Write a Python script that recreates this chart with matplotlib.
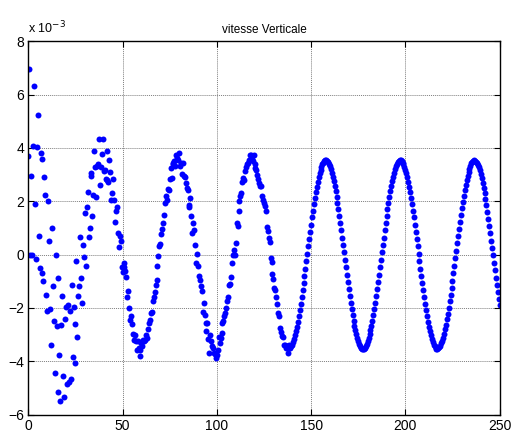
import matplotlib
matplotlib.use('Agg')
import numpy as np
import matplotlib.pyplot as plt

# vertical speed, in units of 1e-3, one sample every 0.5 on the x axis
T_STEP = 0.5

# x = 0 .. 50 : noisy start
vz_start = [
    3.70, 6.96, 0.00, 2.96, 0.00, 4.06, 6.31, 1.90, -0.15, 4.03,
    5.25, 0.70, -0.50, 3.80, 3.60, -0.70, -1.00, 2.90, 2.22, -1.52,
    -2.10, 2.02, 0.50, -2.05, -3.38, 1.00, -1.18, -2.48, -4.42, 0.00,
    -2.68, -5.15, -0.88, -3.78, -5.48, -2.65, -1.55, -4.55, -5.35, -2.40,
    -1.95, -4.85, -1.90, -4.78, -2.10, -4.68, -1.15, -3.85, -1.95, -4.05,
    -2.60, -0.25, -3.10, -1.55, -1.18, 0.65, -0.88, -1.82, 0.38, -0.10,
    1.55, -0.42, 1.80, 2.35, 0.65, 1.00, 3.05, 2.95, 1.45, 2.22,
    3.90, 3.28, 2.15, 3.32, 3.40, 4.35, 2.60, 3.30, 3.78, 4.35,
    3.15, 3.18, 2.85, 3.90, 2.80, 2.72, 3.55, 3.10, 2.05, 2.30,
    2.82, 2.05, 1.22, 1.62, 1.78, 0.80, 0.28, 0.70, 0.50, -0.45,
    -0.65,
]

# x = 50.5 .. 139.5 : oscillation with some scatter
vz_middle = [
    -0.31, -0.45, -0.63, -0.82, -1.58, -1.38, -2.00, -2.44, -2.30, -2.60,
    -2.96, -3.19, -3.00, -3.25, -3.56, -3.25, -3.50, -3.81, -3.56, -3.30,
    -3.44, -3.19, -3.25, -3.19, -3.00, -3.14, -2.80, -2.56, -2.44, -2.19,
    -2.14, -1.73, -1.60, -1.40, -1.13, -0.95, -0.44, -0.06, 0.31, 0.40,
    0.79, 0.96, 1.19, 1.50, 1.94, 2.19, 2.06, 2.48, 2.41, 2.85,
    3.25, 2.88, 3.38, 3.44, 3.50, 3.32, 3.75, 3.63, 3.55, 3.81,
    3.31, 3.44, 3.03, 3.44, 2.94, 2.90, 2.69, 2.50, 2.44, 1.88,
    1.78, 2.13, 1.46, 0.81, 1.19, 0.94, 0.35, -0.31, 0.03, -0.41,
    -0.80, -0.96, -1.19, -1.38, -2.15, -1.81, -2.25, -2.88, -2.55, -2.56,
    -3.15, -3.69, -3.00, -3.25, -3.44, -3.50, -3.69, -3.71, -3.88, -3.78,
    -3.56, -3.10, -3.30, -3.13, -2.94, -2.56, -2.50, -2.31, -2.20, -2.00,
    -1.75, -1.60, -1.15, -1.10, -0.85, -0.32, -0.03, 0.19, 0.00, 0.44,
    1.19, 1.06, 1.63, 2.00, 2.19, 2.31, 2.74, 2.88, 2.81, 3.13,
    3.28, 3.38, 3.44, 3.56, 3.75, 3.75, 3.58, 3.50, 3.75, 3.38,
    3.26, 3.19, 3.00, 2.85, 2.69, 2.57, 2.56, 2.20, 2.06, 1.93,
    1.81, 1.63, 1.03, 0.88, 0.64, 0.48, -0.13, -0.28, -0.71, -0.90,
    -1.25, -1.34, -1.60, -1.85, -2.19, -2.31, -2.75, -2.90, -3.06, -3.10,
    -3.38, -3.39, -3.50, -3.44, -3.69, -3.50, -3.38, -3.50, -3.44,
]

# x = 140 .. 250 : settled oscillation
vz_end = [
    -3.37, -3.27, -3.16, -3.02, -2.87, -2.70, -2.51, -2.30, -2.08, -1.85,
    -1.60, -1.34, -1.08, -0.81, -0.53, -0.25, 0.03, 0.31, 0.59, 0.86,
    1.13, 1.40, 1.65, 1.89, 2.12, 2.34, 2.55, 2.73, 2.90, 3.05,
    3.18, 3.30, 3.39, 3.45, 3.50, 3.53, 3.53, 3.51, 3.47, 3.40,
    3.32, 3.21, 3.08, 2.93, 2.77, 2.58, 2.38, 2.17, 1.94, 1.70,
    1.45, 1.19, 0.92, 0.64, 0.37, 0.09, -0.20, -0.48, -0.75, -1.03,
    -1.29, -1.55, -1.80, -2.03, -2.26, -2.47, -2.66, -2.84, -2.99, -3.13,
    -3.25, -3.35, -3.43, -3.49, -3.52, -3.53, -3.52, -3.49, -3.43, -3.35,
    -3.25, -3.13, -2.99, -2.84, -2.66, -2.47, -2.26, -2.03, -1.80, -1.55,
    -1.29, -1.03, -0.75, -0.48, -0.20, 0.09, 0.37, 0.64, 0.92, 1.19,
    1.45, 1.70, 1.94, 2.17, 2.38, 2.58, 2.77, 2.93, 3.08, 3.21,
    3.32, 3.40, 3.47, 3.51, 3.53, 3.53, 3.50, 3.45, 3.39, 3.30,
    3.18, 3.05, 2.90, 2.73, 2.55, 2.34, 2.12, 1.89, 1.65, 1.40,
    1.13, 0.86, 0.59, 0.31, 0.03, -0.25, -0.53, -0.81, -1.08, -1.34,
    -1.60, -1.85, -2.08, -2.30, -2.51, -2.70, -2.87, -3.02, -3.16, -3.27,
    -3.37, -3.44, -3.49, -3.52, -3.53, -3.51, -3.48, -3.42, -3.33, -3.23,
    -3.11, -2.96, -2.80, -2.62, -2.43, -2.21, -1.99, -1.75, -1.50, -1.24,
    -0.97, -0.70, -0.42, -0.14, 0.14, 0.42, 0.70, 0.97, 1.24, 1.50,
    1.75, 1.99, 2.21, 2.42, 2.62, 2.80, 2.96, 3.11, 3.23, 3.33,
    3.42, 3.48, 3.51, 3.53, 3.52, 3.49, 3.44, 3.37, 3.27, 3.16,
    3.02, 2.87, 2.70, 2.51, 2.30, 2.08, 1.85, 1.60, 1.34, 1.08,
    0.81, 0.53, 0.25, -0.03, -0.31, -0.59, -0.86, -1.13, -1.40, -1.65,
    -1.89,
]

x_ticks = [0, 50, 100, 150, 200, 250]
y_ticks = [-6, -4, -2, 0, 2, 4, 6, 8]

vz = np.array(vz_start + vz_middle + vz_end)
t = np.arange(len(vz)) * T_STEP

plt.rcParams['font.family'] = ['Liberation Sans', 'DejaVu Sans']

fig = plt.figure(figsize=(5.13, 4.34), dpi=100)
ax = fig.add_axes([0.0552, 0.0445, 0.9187, 0.8604])

ax.plot(t, vz, 'o', color='#0000ff', markersize=4.3, markeredgewidth=0)

ax.set_xlim(0, 250)
ax.set_ylim(-6, 8)
ax.set_xticks(x_ticks)
ax.set_yticks(y_ticks)
ax.tick_params(direction='in', length=4, width=0.8, labelsize=10,
               top=True, right=True, pad=3)
ax.grid(True, color='#7f7f7f', linestyle=(0, (1, 1)), linewidth=0.7)
for s in ax.spines.values():
    s.set_linewidth(1.0)

ax.set_title('vitesse Verticale', fontsize=8.5, pad=6)
ax.text(0.0, 1.012, r'x 10$^{-3}$', transform=ax.transAxes,
        fontsize=9, ha='left', va='bottom')

fig.savefig('out.png', dpi=100)
